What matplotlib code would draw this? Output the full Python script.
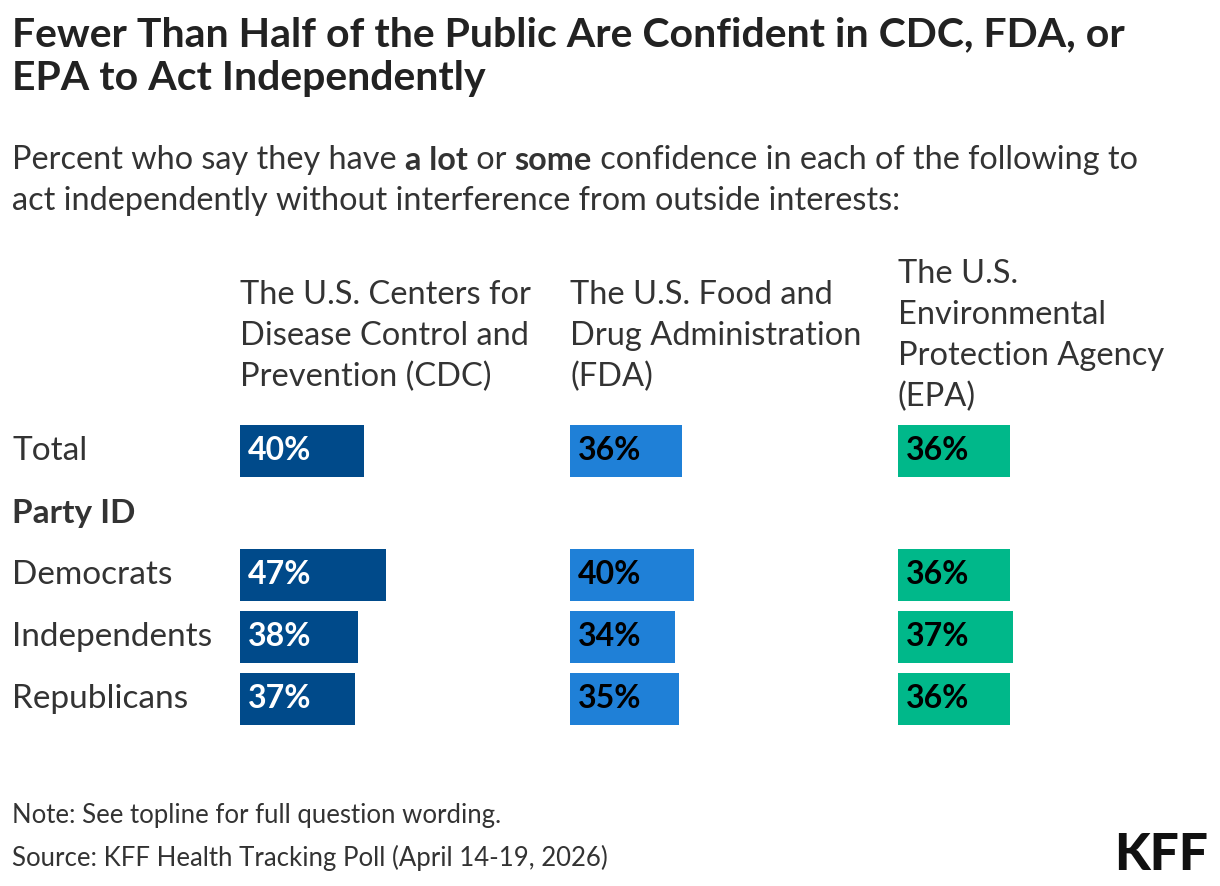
import matplotlib
matplotlib.use("Agg")
import matplotlib.pyplot as plt

rows = ["Total", "Party ID", "Democrats", "Independents", "Republicans"]
agencies = ["The U.S. Centers for\nDisease Control and\nPrevention (CDC)",
            "The U.S. Food and\nDrug Administration\n(FDA)",
            "The U.S.\nEnvironmental\nProtection Agency\n(EPA)"]
cdc = [40, None, 47, 38, 37]
fda = [36, None, 40, 34, 35]
epa = [36, None, 36, 37, 36]
series = [cdc, fda, epa]
colors = ["#004a8a", "#1f80d7", "#00b88a"]
text_colors = ["white", "black", "black"]

plt.rcParams["font.family"] = ["Lato", "DejaVu Sans"]
W, H = 1220, 886
fig = plt.figure(figsize=(W / 100, H / 100), dpi=100)
renderer = fig.canvas.get_renderer()

def fx(px): return px / W
def fy(py): return 1 - py / H

fig.text(fx(12), fy(16), "Fewer Than Half of the Public Are Confident in CDC, FDA, or\nEPA to Act Independently",
         fontsize=29.5, fontweight="bold", va="top", linespacing=1.22, color="#222222")

# subtitle line 1 with bold pieces
pieces = [("Percent who say they have ", "normal"), ("a lot", "bold"), (" or ", "normal"),
          ("some", "bold"), (" confidence in each of the following to", "normal")]
x = 12
for s, wgt in pieces:
    t = fig.text(fx(x), fy(160), s, fontsize=23.3, fontweight=wgt, va="center", color="#333333")
    x += t.get_window_extent(renderer).width
fig.text(fx(12), fy(201), "act independently without interference from outside interests:",
         fontsize=23.3, va="center", color="#333333")

panel_x = [240, 570, 898]
header_bottom = [392, 392, 412]
for i in range(3):
    fig.text(fx(panel_x[i]), fy(header_bottom[i]), agencies[i], fontsize=23.5, va="bottom",
             linespacing=1.45, color="#333333")

top, bot = 420, 730
for i, vals in enumerate(series):
    ax = fig.add_axes([fx(panel_x[i]), fy(bot), 310 / W, (bot - top) / H])
    ax.set_xlim(0, 100)
    ax.set_ylim(len(rows) - 0.5, -0.5)
    ax.axis("off")
    for r, v in enumerate(vals):
        if v is None:
            continue
        ax.barh(r, v, height=0.84, color=colors[i], left=0)
        ax.text(2.6, r, f"{v}%", va="center", ha="left", fontsize=23, fontweight="bold",
                color=text_colors[i])

row_h = (bot - top) / len(rows)
for r, name in enumerate(rows):
    y = top + row_h * (r + 0.5)
    fig.text(fx(12), fy(y), name, fontsize=24, va="center", color="#333333",
             fontweight="bold" if name == "Party ID" else "normal")

fig.text(fx(12), fy(815), "Note: See topline for full question wording.", fontsize=18.5, va="center", color="#333333")
fig.text(fx(12), fy(858), "Source: KFF Health Tracking Poll (April 14-19, 2026)", fontsize=18.5, va="center", color="#333333")
fig.text(fx(1208), fy(856), "KFF", fontsize=37, fontweight="black", ha="right", va="center", color="#111111")

fig.savefig("out.png", dpi=100, facecolor="white")
